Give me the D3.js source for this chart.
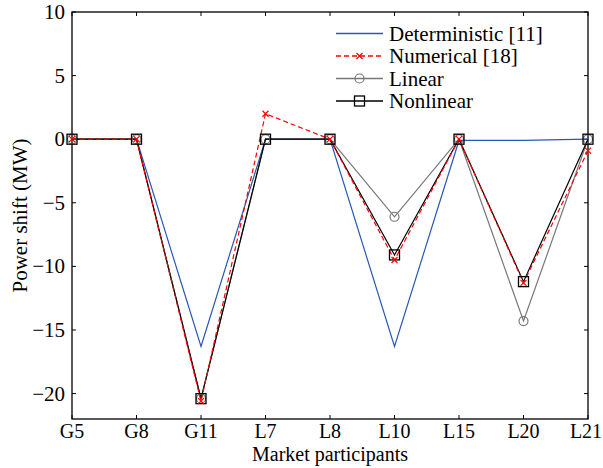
<!DOCTYPE html>
<html><head><meta charset="utf-8">
<script src="https://cdn.jsdelivr.net/npm/d3@7"></script>
<style>body{margin:0;background:#fff}svg{font-family:"Liberation Serif","DejaVu Serif",serif}</style>
</head><body><svg id="c" width="603" height="468"></svg>
<script>
const categories = ["G5","G8","G11","L7","L8","L10","L15","L20","L21"];
const deterministic = [0,0,-16.3,0,0,-16.3,-0.1,-0.1,0];
const numerical = [0,0,-20.6,2,0,-9.5,0,-11.3,-0.9];
const linear = [0,0,-20.4,0,0,-6.1,0,-14.3,0];
const nonlinear = [0,0,-20.4,0,0,-9.1,0,-11.2,0];
const yTicks = [10,5,0,-5,-10,-15,-20];
const yLabels = ["10","5","0","\u22125","\u221210","\u221215","\u221220"];

const svg = d3.select("#c");
const L=72,R=588,T=12,B=419;
const FS=21;
const x = d3.scalePoint().domain(categories).range([L,R]);
const y = d3.scaleLinear().domain([-22,10]).range([B,T]);

const g = svg.append("g");
const tl=4;
categories.forEach((c,i)=>{
  g.append("line").attr("x1",x(c)).attr("x2",x(c)).attr("y1",B).attr("y2",B-tl).attr("stroke","#000");
  g.append("line").attr("x1",x(c)).attr("x2",x(c)).attr("y1",T).attr("y2",T+tl).attr("stroke","#000");
  g.append("text").attr("x",i===categories.length-1?x(c)-2:x(c)).attr("y",B+19).attr("text-anchor","middle").attr("font-size",20).text(c);
});
yTicks.forEach((v,i)=>{
  g.append("line").attr("x1",L).attr("x2",L+tl).attr("y1",y(v)).attr("y2",y(v)).attr("stroke","#000");
  g.append("line").attr("x1",R).attr("x2",R-tl).attr("y1",y(v)).attr("y2",y(v)).attr("stroke","#000");
  g.append("text").attr("x",L-7).attr("y",y(v)+7).attr("text-anchor","end").attr("font-size",FS).text(yLabels[i]);
});
g.append("rect").attr("x",L).attr("y",T).attr("width",R-L).attr("height",B-T).attr("fill","none").attr("stroke","#000").attr("stroke-width",1.3);

const line = d3.line().x((d,i)=>x(categories[i])).y(d=>y(d));
const series = [
  {name:"Deterministic [11]", data:deterministic, color:"#2658b5", dash:null, marker:null},
  {name:"Numerical [18]", data:numerical, color:"#ff0000", dash:"5,3", marker:"x"},
  {name:"Linear", data:linear, color:"#777777", dash:null, marker:"o"},
  {name:"Nonlinear", data:nonlinear, color:"#000000", dash:null, marker:"s"}
];
function marker(sel, type, cx, cy, color){
  if(type==="x"){
    const s=3;
    sel.append("path").attr("d",`M${cx-s},${cy-s}L${cx+s},${cy+s}M${cx-s},${cy+s}L${cx+s},${cy-s}`).attr("stroke",color).attr("stroke-width",1.2).attr("fill","none");
  } else if(type==="o"){
    sel.append("circle").attr("cx",cx).attr("cy",cy).attr("r",4.5).attr("fill","none").attr("stroke",color).attr("stroke-width",1.2);
  } else if(type==="s"){
    sel.append("rect").attr("x",cx-5).attr("y",cy-5).attr("width",10).attr("height",10).attr("fill","none").attr("stroke",color).attr("stroke-width",1.3);
  }
}
const order=[0,2,3,1];
order.forEach(k=>{
  const s=series[k];
  g.append("path").attr("d",line(s.data)).attr("fill","none").attr("stroke",s.color).attr("stroke-width",1.2).attr("stroke-dasharray",s.dash);
});
order.forEach(k=>{
  const s=series[k];
  if(s.marker) s.data.forEach((v,i)=>marker(g,s.marker,x(categories[i]),y(v),s.color));
});
const lx0=336,lx1=383,ly0=33.5,ldy=22.5;
series.forEach((s,i)=>{
  const yy=ly0+i*ldy;
  g.append("line").attr("x1",lx0).attr("x2",lx1).attr("y1",yy).attr("y2",yy).attr("stroke",s.color).attr("stroke-width",1.3).attr("stroke-dasharray",s.dash);
  if(s.marker) marker(g,s.marker,(lx0+lx1)/2,yy,s.color);
  g.append("text").attr("x",389).attr("y",yy+7).attr("font-size",FS).text(s.name);
});
g.append("text").attr("x",(L+R)/2).attr("y",461).attr("text-anchor","middle").attr("font-size",20).text("Market participants");
g.append("text").attr("transform",`translate(27,${(T+B)/2}) rotate(-90)`).attr("text-anchor","middle").attr("font-size",FS).text("Power shift (MW)");
</script></body></html>
